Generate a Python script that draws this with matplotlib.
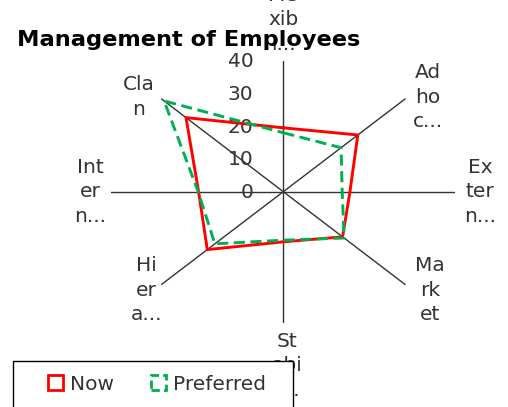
import numpy as np
import matplotlib
matplotlib.use('Agg')
import matplotlib.pyplot as plt
import matplotlib.patches as mpatches

# data
categories = ['Fle\nxib\nl...', 'Ad\nho\nc...', 'Ex\nter\nn...', 'Ma\nrk\net',
              'St\nabi\nl...', 'Hi\ner\na...', 'Int\ner\nn...', 'Cla\nn']
now = [19.5, 24.5, 15.5, 19.5, 15.3, 25.0, 19.7, 32.0]
preferred = [18.0, 19.0, 13.7, 20.0, 14.8, 22.5, 19.8, 39.2]
ticks = [0, 10, 20, 30, 40]
rmax = 40

# label offsets (pixels) from the end of each spoke
label_off = [(0, 41), (23, 2), (25, 0), (25, -6), (4, -43), (-15, -6), (-21, 0), (-23, 2)]
fs = 14.5

W, H = 508, 407
fig = plt.figure(figsize=(W / 100, H / 100), dpi=100)
ax = fig.add_axes([111.3 / W, (H - 322.7) / H, 344 / W, 262 / H])
ax.set_xlim(-rmax, rmax)
ax.set_ylim(-rmax, rmax)
ax.axis('off')

n = len(categories)
theta = np.arange(n) * 2 * np.pi / n
sx, sy = np.sin(theta), np.cos(theta)

for i in range(n):
    ax.plot([0, rmax * sx[i]], [0, rmax * sy[i]], color='#333333', lw=1.0, zorder=1)
    ax.annotate(categories[i], (rmax * sx[i], rmax * sy[i]), xytext=label_off[i],
                textcoords='offset pixels', ha='center', va='center', multialignment='center',
                fontsize=fs, color='#333333', linespacing=1.36, annotation_clip=False)

for t in ticks:
    ax.annotate(str(t), (0, t), xytext=(-30, -1), textcoords='offset pixels',
                ha='right', va='center', fontsize=fs, color='#333333', annotation_clip=False)


def closed(vals):
    v = np.array(vals + vals[:1])
    return v * np.append(sx, sx[0]), v * np.append(sy, sy[0])


x, y = closed(now)
ax.plot(x, y, color='#ff0000', lw=2.1, zorder=3, clip_on=False)
x, y = closed(preferred)
ax.plot(x, y, color='#00b050', lw=2.1, ls=(0, (3.8, 1.9)), zorder=4, clip_on=False)

fig.text(17 / W, 1 - 40 / H, 'Management of Employees', fontsize=16.2, fontweight='bold',
         ha='left', va='center')

# legend frame (runs off the bottom edge like the reference)
frame = mpatches.Rectangle((13 / W, -0.01), 280 / W, (H - 361) / H + 0.01, transform=fig.transFigure,
                           facecolor='white', edgecolor='black', lw=1.0, zorder=2)
fig.patches.append(frame)
handles = [mpatches.Patch(facecolor='white', edgecolor='#ff0000', lw=2, label='Now'),
           mpatches.Patch(facecolor='white', edgecolor='#00b050', lw=2, ls=(0, (3, 1.5)), label='Preferred')]
fig.legend(handles=handles, loc='center', bbox_to_anchor=(157 / W, 1 - 384 / H), ncol=2,
           frameon=False, fontsize=fs, handlelength=0.75, handleheight=0.75,
           handletextpad=0.35, columnspacing=1.8, labelcolor='#333333')

fig.savefig('out.png', dpi=100)
